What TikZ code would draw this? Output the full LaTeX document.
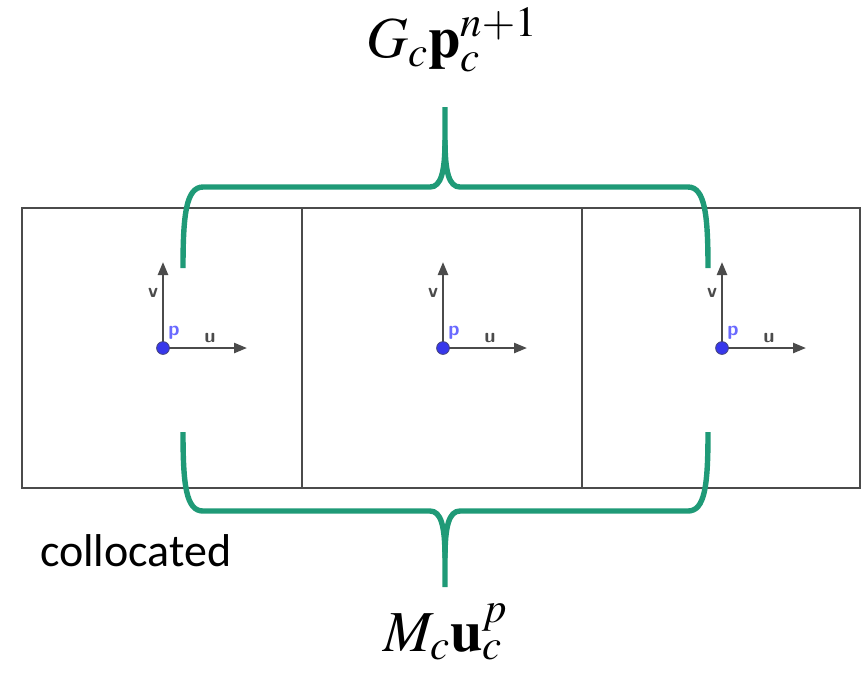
\documentclass[tikz,border=0pt]{standalone}
\usepackage{mathptmx}
\usepackage{fontspec}
\newfontfamily\calibri{Carlito}
\usepackage{tikz}
\usetikzlibrary{arrows.meta,calc}
\definecolor{bracegreen}{RGB}{31,154,119}
\definecolor{gridgray}{RGB}{75,75,75}
\definecolor{dotblue}{RGB}{55,55,235}
\definecolor{lblblue}{RGB}{105,105,255}

\begin{document}
\begin{tikzpicture}[x=0.5pt, y=-0.5pt, >={Triangle[length=6.5pt, width=5pt]},
    cell/.style={gridgray, line width=1.2pt},
    axis/.style={->, gridgray, line width=1.2pt},
    brace/.style={bracegreen, line width=2.7pt},
    axlbl/.style={font=\sffamily\bfseries\fontsize{10}{11}\selectfont, inner sep=0pt}]
  \useasboundingbox (0,0) rectangle (866,677);
  \draw[cell] (22,208) rectangle (860,488);
  \draw[cell] (302,208) -- (302,488);
  \draw[cell] (582,208) -- (582,488);
  \foreach \x/\nm in {163/a, 443/b, 722/c} {
    \coordinate (o\nm) at (\x,348);
    \draw[axis] (o\nm) -- ++(0,-86);
    \draw[axis] (o\nm) -- ++(84,0);
    \fill[dotblue, draw=gridgray!70!dotblue, line width=0.4pt] (o\nm) circle (3.2pt);
    \node[axlbl, gridgray] (v\nm) at ($(o\nm)+(-10,-55)$) {v};
    \node[axlbl, gridgray] (u\nm) at ($(o\nm)+(47,-10)$) {u};
    \node[axlbl, lblblue] (p\nm) at ($(o\nm)+(11,-15)$) {p};
  }
  \draw[brace] (183,268) .. controls (183,215) and (186,187) .. (203,187) -- (430,187)
        .. controls (441,187) and (445,172) .. (445,140) -- (445,107);
  \draw[brace] (708,268) .. controls (708,215) and (705,187) .. (688,187) -- (460,187)
        .. controls (449,187) and (445,172) .. (445,140);
  \draw[brace] (183,432) .. controls (183,485) and (186,511) .. (203,511) -- (430,511)
        .. controls (441,511) and (445,526) .. (445,558) -- (445,587);
  \draw[brace] (708,432) .. controls (708,485) and (705,511) .. (688,511) -- (460,511)
        .. controls (449,511) and (445,526) .. (445,558);
  \node[font=\fontsize{29}{34}\selectfont] (gp) at (452,40) {$G_c\mathbf{p}_c^{n+1}$};
  \node[font=\fontsize{29}{34}\selectfont] (mu) at (446,632) {$M_c\mathbf{u}_c^{p}$};
  \node[font=\calibri\fontsize{23}{27}\selectfont, anchor=west] (col) at (33,551) {collocated};
\end{tikzpicture}
\end{document}
